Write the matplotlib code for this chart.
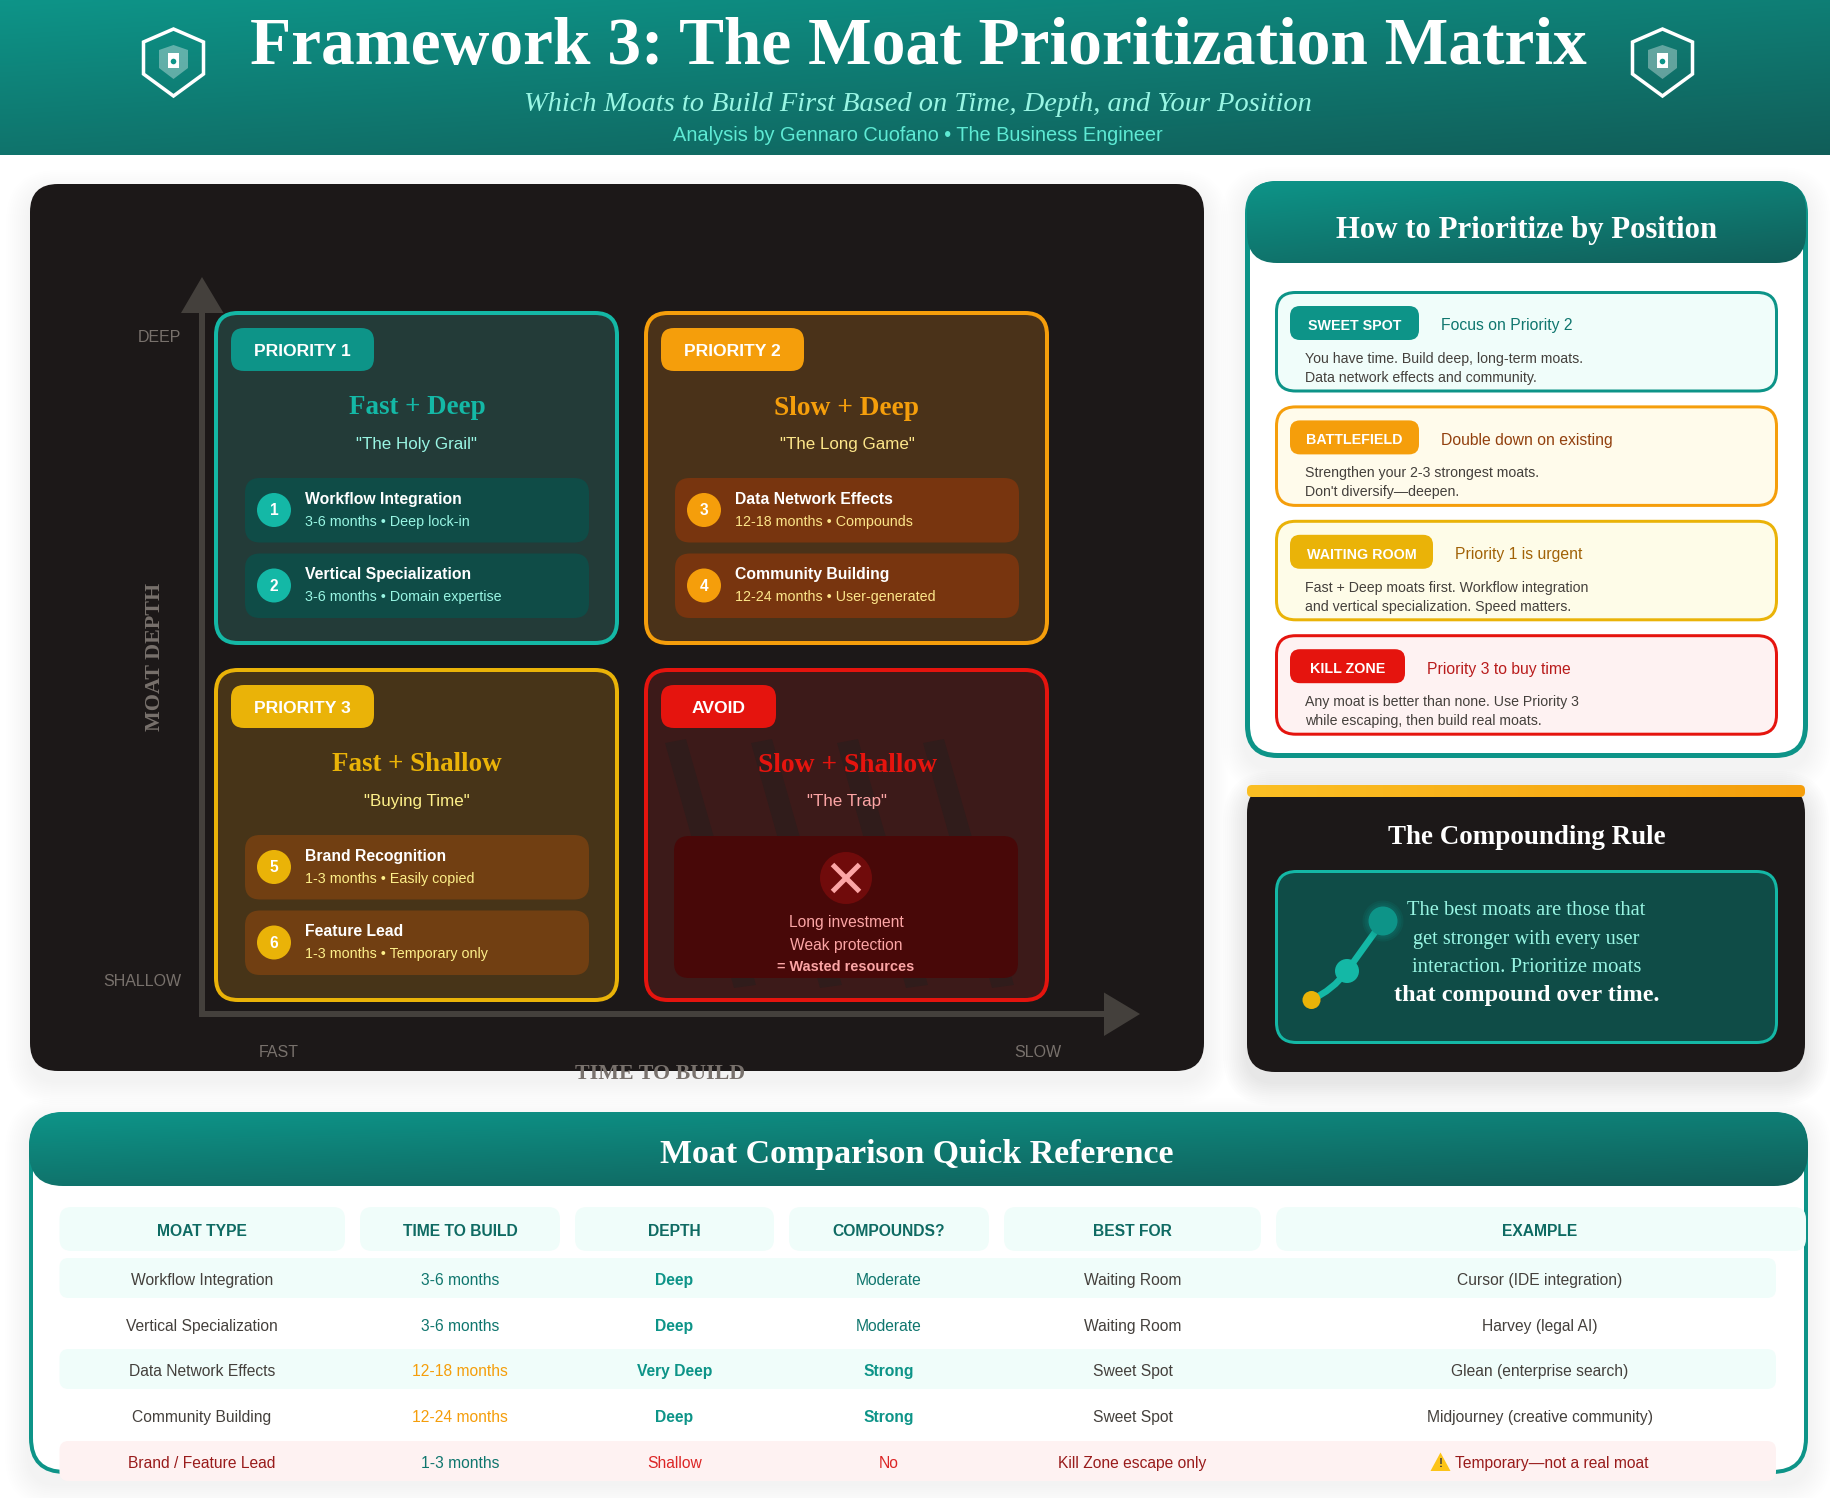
import itertools

import numpy as np
import matplotlib
matplotlib.use('Agg')
import matplotlib.pyplot as plt
from matplotlib.colors import LinearSegmentedColormap
from matplotlib.patches import Circle, FancyBboxPatch, PathPatch, Polygon
from matplotlib.path import Path

W, H = 1830, 1498
SANS = ['Liberation Sans', 'DejaVu Sans']
SERIF = ['Liberation Serif', 'DejaVu Serif']

# chart content
title = 'Framework 3: The Moat Prioritization Matrix'
subtitle = 'Which Moats to Build First Based on Time, Depth, and Your Position'
byline = 'Analysis by Gennaro Cuofano • The Business Engineer'

quad_badges = ['PRIORITY 1', 'PRIORITY 2', 'PRIORITY 3', 'AVOID']
quad_titles = ['Fast + Deep', 'Slow + Deep', 'Fast + Shallow', 'Slow + Shallow']
quad_quotes = ['"The Holy Grail"', '"The Long Game"', '"Buying Time"', '"The Trap"']
quad_moats = [
    [('1', 'Workflow Integration', '3-6 months • Deep lock-in'),
     ('2', 'Vertical Specialization', '3-6 months • Domain expertise')],
    [('3', 'Data Network Effects', '12-18 months • Compounds'),
     ('4', 'Community Building', '12-24 months • User-generated')],
    [('5', 'Brand Recognition', '1-3 months • Easily copied'),
     ('6', 'Feature Lead', '1-3 months • Temporary only')],
]
avoid_lines = ['Long investment', 'Weak protection', '= Wasted resources']

position_names = ['SWEET SPOT', 'BATTLEFIELD', 'WAITING ROOM', 'KILL ZONE']
position_actions = ['Focus on Priority 2', 'Double down on existing',
                    'Priority 1 is urgent', 'Priority 3 to buy time']
position_notes = [
    ['You have time. Build deep, long-term moats.', 'Data network effects and community.'],
    ['Strengthen your 2-3 strongest moats.', "Don't diversify—deepen."],
    ['Fast + Deep moats first. Workflow integration', 'and vertical specialization. Speed matters.'],
    ['Any moat is better than none. Use Priority 3', 'while escaping, then build real moats.'],
]

rule_lines = ['The best moats are those that', 'get stronger with every user',
              'interaction. Prioritize moats', 'that compound over time.']

table_headers = ['MOAT TYPE', 'TIME TO BUILD', 'DEPTH', 'COMPOUNDS?', 'BEST FOR', 'EXAMPLE']
moat_type = ['Workflow Integration', 'Vertical Specialization', 'Data Network Effects',
             'Community Building', 'Brand / Feature Lead']
build_time = ['3-6 months', '3-6 months', '12-18 months', '12-24 months', '1-3 months']
depth = ['Deep', 'Deep', 'Very Deep', 'Deep', 'Shallow']
compounds = ['Moderate', 'Moderate', 'Strong', 'Strong', 'No']
best_for = ['Waiting Room', 'Waiting Room', 'Sweet Spot', 'Sweet Spot', 'Kill Zone escape only']
example = ['Cursor (IDE integration)', 'Harvey (legal AI)', 'Glean (enterprise search)',
           'Midjourney (creative community)', 'Temporary—not a real moat']

# colours per quadrant: border, fill, badge, quote text, moat card, moat sub text
quad_border = ['#14b8a6', '#f59e0b', '#eab308', '#e5140e']
quad_fill = ['#233b38', '#4a3219', '#473418', '#3c1a19']
quad_badge = ['#0d9488', '#f59e0b', '#eab308', '#e5140e']
quad_quote = ['#99f6e4', '#fde68a', '#fef08a', '#fca5a5']
quad_card = ['#0f4c47', '#78350f', '#713f12']
pos_border = ['#0d9488', '#f59e0b', '#eab308', '#e5140e']
pos_fill = ['#f0fdfa', '#fffbeb', '#fefce8', '#fef2f2']
pos_action = ['#0f766e', '#92400e', '#a16207', '#b91c1c']
panel_col = '#1c1818'

fig = plt.figure(figsize=(W / 100, H / 100), dpi=100, facecolor='white')
ax = fig.add_axes([0, 0, 1, 1])
ax.set_xlim(0, W)
ax.set_ylim(H, 0)
ax.axis('off')
order = itertools.count(1)
teal_cmap = LinearSegmentedColormap.from_list('teal', ['#0d9488', '#115e59'])
gold_cmap = LinearSegmentedColormap.from_list('gold', ['#fbbf24', '#f59e0b'])


def box(x0, y0, x1, y1, r, fill='none', edge='none', lw=0, alpha=None):
    # outer box like a CSS border-box, so the stroke sits inside it
    p = FancyBboxPatch((x0 + lw / 2, y0 + lw / 2), x1 - x0 - lw, y1 - y0 - lw,
                       boxstyle=f'round,pad=0,rounding_size={r}', facecolor=fill,
                       edgecolor=edge, linewidth=lw * 0.72, alpha=alpha,
                       zorder=next(order))
    ax.add_patch(p)
    return p


def shadow(x0, y0, x1, y1, r, drop=10, spread=24, strength=0.005):
    for i in range(spread, 0, -2):
        box(x0 - i, y0 - i + drop, x1 + i, y1 + i + drop, r + i, fill='black', alpha=strength)


def gradient(x0, y0, x1, y1, r, cmap=teal_cmap, horizontal=False):
    clip = box(x0, y0, x1, y1, r, fill='none')
    xx, yy = np.meshgrid(np.linspace(0, 1, 200), np.linspace(0, 1, 60))
    # the banners darken mostly top to bottom, less so left to right
    t = xx if horizontal else 0.4 * xx + 0.6 * yy
    im = ax.imshow(t, extent=(x0, x1, y1, y0), cmap=cmap, vmin=0, vmax=1, aspect='auto',
                   interpolation='bilinear', zorder=next(order))
    im.set_clip_path(clip)
    ax.set_xlim(0, W)
    ax.set_ylim(H, 0)


def text(x, y, s, px, color, family=SANS, weight='normal', style='normal', ha='center',
         rotation=0, width=None):
    # x, y is the visual middle of the capitals; the text itself sits on a baseline
    t = ax.text(x, y, s, fontsize=px * 0.72, color=color, family=family, weight=weight,
                style=style, ha=ha, va='baseline', rotation=rotation,
                rotation_mode='anchor', zorder=next(order))
    if width:
        bb = t.get_window_extent(fig.canvas.get_renderer())
        t.set_fontsize(t.get_fontsize() * width / max(bb.width, bb.height))
    drop = 0.35 * t.get_fontsize() / 0.72
    if rotation == 90:
        t.set_x(x + drop)
    else:
        t.set_y(y + drop)
    return t


def poly(points, color, alpha=None):
    ax.add_patch(Polygon(points, closed=True, facecolor=color, edgecolor='none', alpha=alpha,
                         zorder=next(order)))


def dot(x, y, r, color, alpha=None):
    ax.add_patch(Circle((x, y), r, facecolor=color, edgecolor='none', alpha=alpha,
                        zorder=next(order)))


def shield(cx):
    outer = [(0, 29), (30, 42), (30, 74), (0, 96), (-30, 74), (-30, 42)]
    inner = [(0, 45), (14.5, 50), (14.5, 68), (0, 79), (-14.5, 68), (-14.5, 50)]
    ax.add_patch(Polygon([(cx + a, b) for a, b in outer], closed=True, facecolor='none',
                         edgecolor='white', linewidth=3.5 * 0.72, zorder=next(order)))
    poly([(cx + a, b) for a, b in inner], 'white', alpha=0.35)
    poly([(cx - 5.5, 53), (cx + 5.5, 53), (cx + 5.5, 68), (cx - 5.5, 68)], 'white')
    dot(cx, 61.5, 2.8, '#0d9488')


# page header
gradient(0, 0, W, 155, 0)
shield(173.5)
shield(1662.5)
text(918, 40.5, title, 64, 'white', SERIF, 'bold', width=1338)
text(918, 101, subtitle, 29, '#99f6e4', SERIF, style='italic', width=787)
text(918, 133.5, byline, 20.5, '#5eead4', width=491)

# matrix panel
shadow(30, 184, 1204, 1071, 28)
box(30, 184, 1204, 1071, 28, fill=panel_col)

axis_col = '#44403c'
ax.plot([202, 202], [313, 1014], color=axis_col, lw=6 * 0.72, solid_capstyle='butt', zorder=next(order))
ax.plot([199, 1104], [1014, 1014], color=axis_col, lw=6 * 0.72, solid_capstyle='butt', zorder=next(order))
poly([(202, 277), (223.5, 313), (181, 313)], axis_col)
poly([(1140, 1014), (1104, 992.5), (1104, 1036)], axis_col)

text(181, 336, 'DEEP', 16, '#78716c', ha='right')
text(181, 980, 'SHALLOW', 16, '#78716c', ha='right')
text(279, 1051.5, 'FAST', 16, '#78716c')
text(1038, 1051.5, 'SLOW', 16, '#78716c')
text(152, 657, 'MOAT DEPTH', 20, '#78716c', SERIF, 'bold', rotation=90, width=148)

quad_x = [214, 644, 214, 644]
quad_y = [311, 311, 668, 668]
for i in range(4):
    x0, y0 = quad_x[i], quad_y[i]
    box(x0, y0, x0 + 405, y0 + 334, 22, fill=quad_fill[i], edge=quad_border[i], lw=4)
    if i == 3:
        # faint diagonal hatching behind the trap card
        for k in range(4):
            dx = 86 * k
            poly([(665 + dx, 743), (686 + dx, 739), (756 + dx, 985), (734 + dx, 988)], '#301c1b')
    badge_w = 115 if i == 3 else 143
    box(x0 + 17, y0 + 17, x0 + 17 + badge_w, y0 + 60, 13, fill=quad_badge[i])
    text(x0 + 17 + badge_w / 2, y0 + 38.5, quad_badges[i], 17.5, 'white', weight='bold')
    title_w = [137, 145, 170, 179][i]
    text(x0 + 203, y0 + 94, quad_titles[i], 27, quad_border[i], SERIF, 'bold', width=title_w)
    text(x0 + 203, y0 + 132.5, quad_quotes[i], 17, quad_quote[i])
    if i < 3:
        for k, (num, name, sub) in enumerate(quad_moats[i]):
            top = y0 + 167 + 75.5 * k
            box(x0 + 31, top, x0 + 375, top + 64.5, 15, fill=quad_card[i])
            dot(x0 + 60, top + 32, 17, quad_border[i])
            text(x0 + 60, top + 32, num, 15.5, 'white', weight='bold')
            text(x0 + 91, top + 20, name, 15.8, 'white', weight='bold', ha='left')
            text(x0 + 91, top + 42.5, sub, 14.3, quad_quote[i], ha='left')
    else:
        box(674, 836, 1018, 978, 15, fill='#480808')
        dot(846, 878, 26, '#700b0b')
        for sign in (1, -1):
            ax.plot([846 - 13.5, 846 + 13.5], [878 - sign * 13.5, 878 + sign * 13.5],
                    color='#fca5a5', lw=5 * 0.72, solid_capstyle='butt', zorder=next(order))
        text(846, 922, avoid_lines[0], 15.6, '#fca5a5')
        text(846, 944.5, avoid_lines[1], 15.6, '#fca5a5')
        text(846, 966, avoid_lines[2], 14.5, '#fca5a5', weight='bold')

text(660, 1071, 'TIME TO BUILD', 20, '#78716c', SERIF, 'bold', width=170)

# position panel
shadow(1245, 181, 1808, 758, 28, strength=0.004)
box(1245, 181, 1808, 758, 30, fill='white', edge='#0d9488', lw=5)
gradient(1247, 181, 1806, 263, 30)
text(1526.5, 227, 'How to Prioritize by Position', 28, 'white', SERIF, 'bold', width=382)

badge_w = [129, 129, 143, 115]
for i in range(4):
    top = 291 + 114.4 * i
    box(1275, top, 1778, top + 101.5, 19, fill=pos_fill[i], edge=pos_border[i], lw=3)
    box(1290, top + 15, 1290 + badge_w[i], top + 49, 10, fill=pos_border[i])
    text(1290 + badge_w[i] / 2, top + 34, position_names[i], 14.3, 'white', weight='bold')
    text(1290 + badge_w[i] + 22, top + 34, position_actions[i], 15.7, pos_action[i], ha='left')
    text(1305, top + 67, position_notes[i][0], 14.15, '#44403c', ha='left')
    text(1305, top + 86, position_notes[i][1], 14.15, '#44403c', ha='left')

# compounding rule panel
shadow(1247, 785, 1805, 1072, 28, strength=0.006)
box(1247, 785, 1805, 1072, 28, fill=panel_col)
gradient(1247, 785, 1805, 797, 5, cmap=gold_cmap, horizontal=True)
text(1526.5, 835, 'The Compounding Rule', 24, 'white', SERIF, 'bold', width=278)
box(1275, 870, 1778, 1044, 20, fill='#0f4c47', edge='#14b8a6', lw=3)

curve = Path([(1311, 1000), (1333, 990), (1347, 971), (1383, 921)],
             [Path.MOVETO, Path.CURVE3, Path.CURVE3, Path.LINETO])
ax.add_patch(PathPatch(curve, facecolor='none', edgecolor='#14b8a6', lw=6.5 * 0.72, zorder=next(order)))
for grow in (6, 4, 2):
    dot(1383, 921, 14.5 + grow, '#0d9488', alpha=0.12)
dot(1383, 921, 14.5, '#0d9488')
dot(1347, 971, 12, '#14b8a6')
dot(1311.5, 1000, 9, '#eab308')

text(1526.5, 908, rule_lines[0], 21, '#99f6e4', SERIF, width=240)
text(1526.5, 937, rule_lines[1], 21, '#99f6e4', SERIF, width=227)
text(1526.5, 965, rule_lines[2], 21, '#99f6e4', SERIF, width=230)
text(1526.5, 993, rule_lines[3], 21, 'white', SERIF, 'bold', width=265)

# comparison table panel
shadow(29, 1112, 1808, 1474, 28)
box(29, 1112, 1808, 1474, 34, fill='white', edge='#0d9488', lw=4)
gradient(29, 1112, 1808, 1186, 34)
text(917, 1151.5, 'Moat Comparison Quick Reference', 32, 'white', SERIF, 'bold', width=515)

col_left = [59.5, 360, 575, 789, 1004, 1276]
col_right = [345, 560, 774, 989, 1261, 1806]
col_center = [202, 460, 674.5, 889, 1132.5, 1540]
row_y = [1279.5, 1325.5, 1370.5, 1416.5, 1462.5]

for c, head in enumerate(table_headers):
    box(col_left[c], 1207, col_right[c], 1251, 12, fill='#f0fdfa')
    text(col_center[c], 1230.5, head, 15.6, '#0f6b63', weight='bold')

box(59.5, 1258, 1776, 1298, 9, fill='#f0fdfa')
box(59.5, 1349, 1776, 1389, 9, fill='#f0fdfa')
box(59.5, 1441, 1776, 1481, 9, fill='#fef2f2')

for r in range(5):
    y = row_y[r]
    last = r == 4
    strong = r in (2, 3)
    text(col_center[0], y, moat_type[r], 15.6, '#991b1b' if last else '#44403c')
    text(col_center[1], y, build_time[r], 15.6, '#f59e0b' if strong else '#0f766e')
    text(col_center[2], y, depth[r], 15.6, '#dc2626' if last else '#0d9488',
         weight='normal' if last else 'bold')
    text(col_center[3], y, compounds[r], 15.6,
         '#dc2626' if last else ('#0d9488' if strong else '#0f766e'),
         weight='bold' if strong else 'normal')
    text(col_center[4], y, best_for[r], 15.6, '#991b1b' if last else '#44403c')
    if last:
        poly([(1440.5, 1452.5), (1450.5, 1471), (1430.5, 1471)], '#fcc419')
        text(1440.5, 1463, '!', 12, '#44403c', weight='bold')
        text(1455, y, example[r], 15.6, '#991b1b', ha='left')
    else:
        text(col_center[5], y, example[r], 15.6, '#44403c')

fig.savefig('out.png', dpi=100, facecolor='white')
